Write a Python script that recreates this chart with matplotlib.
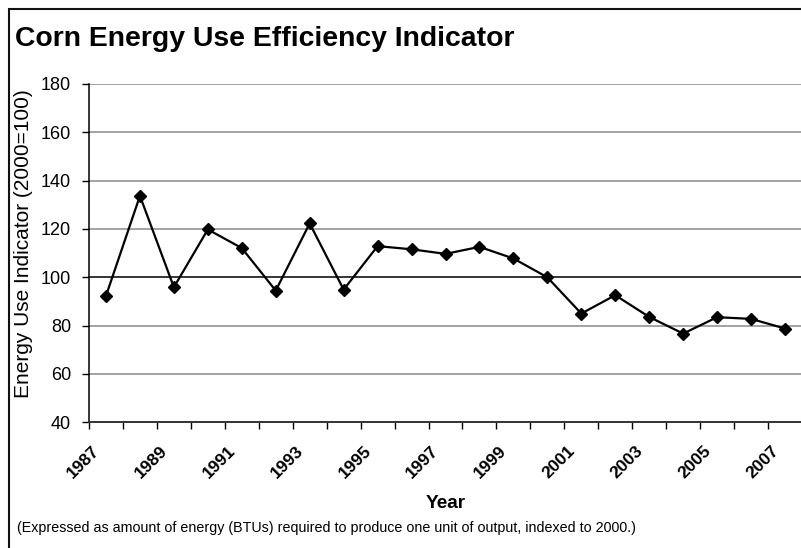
import numpy as np
import matplotlib
matplotlib.use("Agg")
import matplotlib.pyplot as plt
from matplotlib.patches import Rectangle
from matplotlib.transforms import ScaledTranslation

plt.rcParams["font.family"] = ["Liberation Sans", "DejaVu Sans"]

years = list(range(1987, 2008))
indicator = [92.3, 133.7, 95.9, 119.8, 112.1, 94.5, 122.3, 94.9, 112.9, 111.6,
             109.7, 112.6, 107.8, 100.0, 85.0, 92.6, 83.6, 76.7, 83.5, 82.8, 78.8]
y_ticks = [40, 60, 80, 100, 120, 140, 160, 180]

W, H = 801, 548
fig = plt.figure(figsize=(W / 100, H / 100), dpi=100)

# outer chart frame (right/bottom edges fall outside the picture)
fig.patches.append(Rectangle((9 / W, -0.1), 1.2, 1 - 9 / H + 0.1, transform=fig.transFigure,
                             fill=False, edgecolor="#111111", lw=1.5))

left, right, top, bottom = 89, 802, 84, 422.3
ax = fig.add_axes([left / W, 1 - bottom / H, (right - left) / W, (bottom - top) / H])

x = np.arange(len(years))
ax.set_xlim(-0.5, len(years) - 0.5)
ax.set_ylim(40, 180)

for yv in y_ticks[1:]:
    ax.axhline(yv, color="black" if yv == 100 else "#8a8a8a", lw=1.1, zorder=1)

ax.plot(x, indicator, color="black", lw=1.6, marker="D", ms=6, zorder=3)

for s in ["top", "right"]:
    ax.spines[s].set_visible(False)
ax.spines["left"].set_linewidth(1.1)
ax.spines["bottom"].set_linewidth(1.4)
ax.spines["bottom"].set_color("#333333")

ax.set_yticks(y_ticks)
ax.tick_params(axis="y", labelsize=13, length=5, width=1, pad=8)

# ticks sit between categories, labels on every other category
ax.set_xticks(np.arange(-0.5, len(years)))
ax.set_xticklabels([])
ax.tick_params(axis="x", which="major", length=5, width=1, direction="out")
ax.set_xticks(x[::2], minor=True)
ax.set_xticklabels([str(y) for y in years[::2]], minor=True, rotation=45,
                   ha="right", va="center", rotation_mode="anchor",
                   fontsize=12.5, fontweight="bold")
ax.tick_params(axis="x", which="minor", length=0, pad=19)
offset = ScaledTranslation(-9 / 100, 0, fig.dpi_scale_trans)
for lab in ax.get_xticklabels(minor=True):
    lab.set_transform(lab.get_transform() + offset)

fig.text(15 / W, 1 - 39 / H, "Corn Energy Use Efficiency Indicator", fontsize=20.4,
         fontweight="bold", va="center", ha="left")
fig.text(24 / W, 1 - 244 / H, "Energy Use Indicator (2000=100)", rotation=90,
         fontsize=15, va="center", ha="center")
fig.text(445.5 / W, 1 - 504 / H, "Year", fontsize=13.7, fontweight="bold",
         va="center", ha="center")
fig.text(17 / W, 1 - 528 / H,
         "(Expressed as amount of energy (BTUs) required to produce one unit of output, indexed to 2000.)",
         fontsize=10.3, va="center", ha="left")

fig.savefig("out.png", dpi=100)
